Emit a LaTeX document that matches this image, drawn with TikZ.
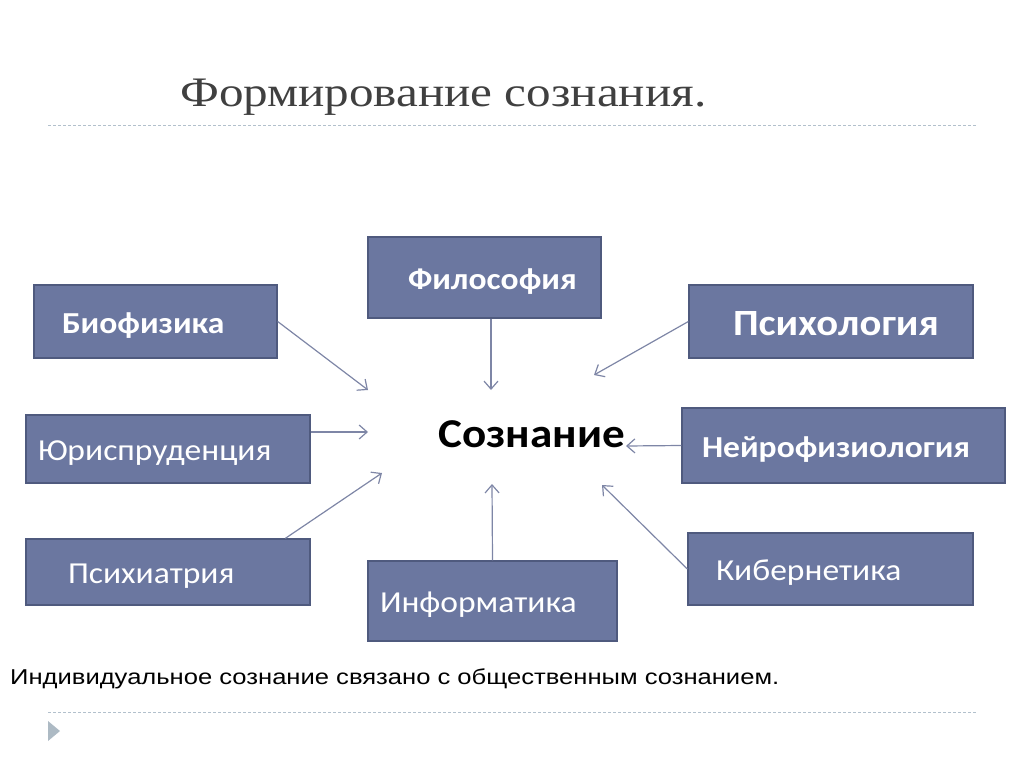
\documentclass[tikz,border=0pt]{standalone}
\usepackage{fontspec}
\setmainfont{Carlito}[FakeStretch=1.1]
\newfontfamily\titlefont{Liberation Serif}[FakeStretch=1.17]
\newfontfamily\notefont{Liberation Sans}[FakeStretch=1.19]
\usetikzlibrary{arrows.meta}
\definecolor{boxblue}{HTML}{6B77A0}
\definecolor{boxline}{HTML}{4F5A7E}
\definecolor{arrowgray}{HTML}{7E86A6}
\definecolor{rulegray}{HTML}{B2C0CC}
\definecolor{titlegray}{HTML}{404040}

\begin{document}
\begin{tikzpicture}
		[x=1pt,y=-1pt,
		box/.style={draw=boxline,fill=boxblue,line width=1.3pt,text=white,align=left,text height=29pt,text depth=6pt,font=\fontsize{30.5}{33}\selectfont},
		boldbox/.style={box,font=\fontsize{30.5}{33}\selectfont\bfseries},
		arr/.style={draw=arrowgray,line width=1.2pt,-{Straight Barb[length=8pt,width=14pt]}},
		rule/.style={draw=rulegray,line width=1pt,dash pattern=on 3pt off 2pt}]
		\useasboundingbox (0,0) rectangle (1024,767);
		\node[anchor=base west,text=titlegray,font=\titlefont\fontsize{42}{46}\selectfont,inner sep=0pt] (title) at (180,107) {Формирование сознания.};
		\draw[rule] (48,126) -- (976,126);
		
		\node[boldbox,minimum height=73,inner xsep=28,text width=187] (bio) at (155.5,321.5) {Биофизика};
		\node[box,minimum height=68,inner xsep=12,text width=260] (jur) at (168,449) {Юриспруденция};
		\node[box,minimum height=66,inner xsep=42,text width=200] (psi) at (168,572) {Психиатрия};
		\node[boldbox,minimum height=81,inner xsep=40,text width=153] (fil) at (484.5,277.5) {Философия};
		\node[box,minimum height=80,inner xsep=12,text width=225] (inf) at (492.5,601) {Информатика};
		\node[boldbox,minimum height=73,inner xsep=44,text width=196,text height=33pt,font=\fontsize{37}{40}\selectfont\bfseries] (pso) at (831,321.5) {Психология};
		\node[boldbox,minimum height=75,inner xsep=20,text width=283] (neu) at (843.5,445.5) {Нейрофизиология};
		\node[box,minimum height=72,inner xsep=28,text width=229] (kib) at (830.5,569) {Кибернетика};
		\node[anchor=base,font=\fontsize{41}{44}\selectfont\bfseries,inner sep=0pt] (soz) at (531.5,447) {Сознание};
		
		\coordinate (t1) at (368,390);
		\coordinate (t2) at (368,432);
		\coordinate (t3) at (382,473);
		\coordinate (t4) at (491,390);
		\coordinate (t5) at (492,484);
		\coordinate (t6) at (594,375);
		\coordinate (t7) at (626,446);
		\coordinate (t8) at (602,485);
		\foreach \from/\to in {bio.east/t1,jur.east |- t2/t2,psi.16.5/t3,fil.south -| t4/t4,inf.north/t5,pso.west/t6,neu.west/t7,kib.west/t8}
		\draw[arr] (\from) -- (\to);
		
		\node[anchor=base west,font=\notefont\fontsize{21.5}{24}\selectfont,inner sep=0pt] (note) at (10,684) {Индивидуальное сознание связано с общественным сознанием.};
		\draw[rule] (48,712) -- (976,712);
		\fill[rulegray!90!gray] (48,721) -- (60,731) -- (48,741) -- cycle;
		\end{tikzpicture}
\end{document}
